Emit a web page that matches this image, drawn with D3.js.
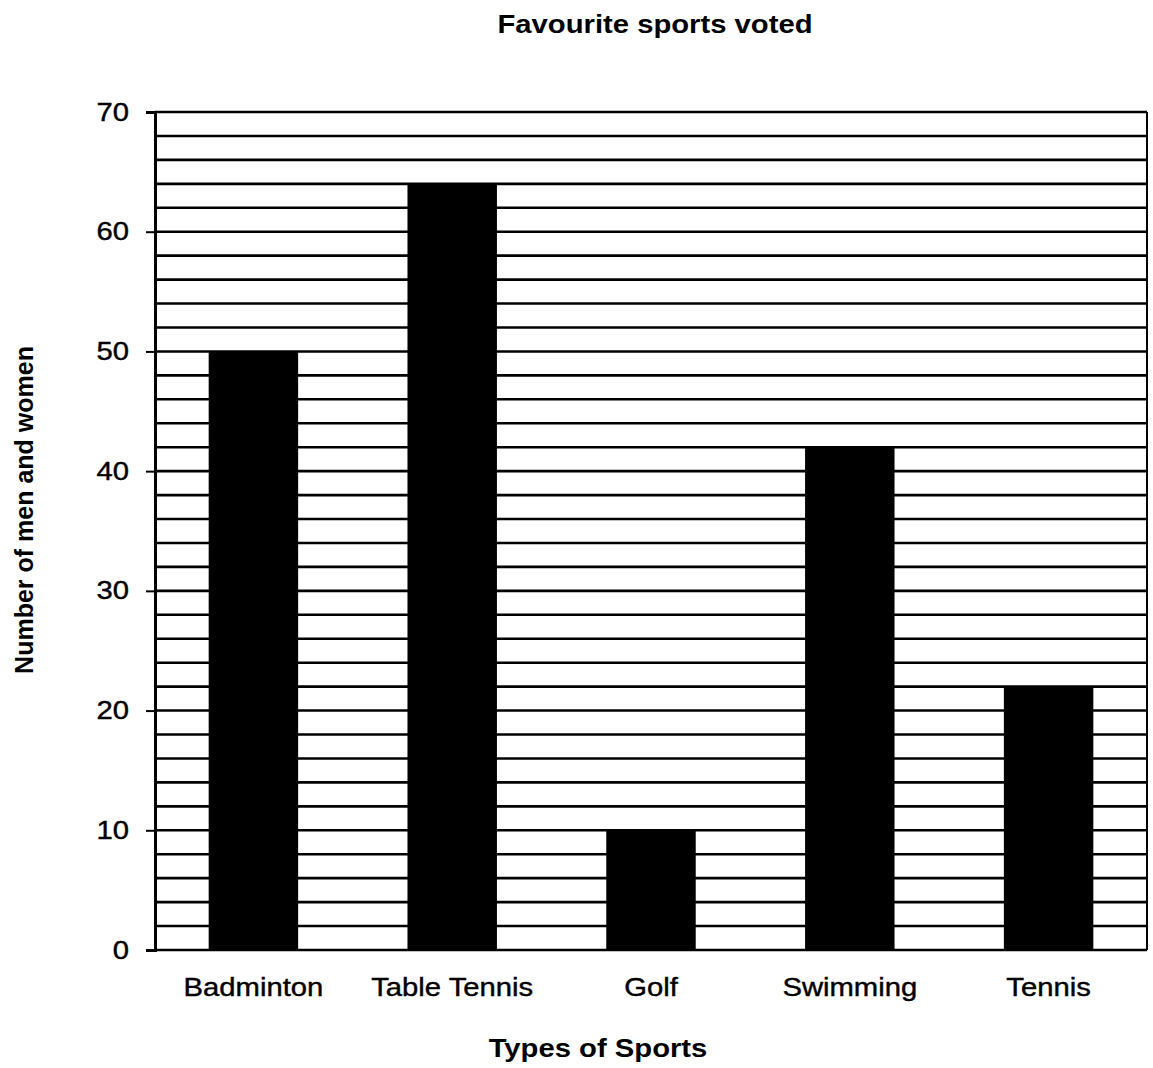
<!DOCTYPE html>
<html>
<head>
<meta charset="utf-8">
<script src="https://cdn.jsdelivr.net/npm/d3@7"></script>
<style>
  body { margin: 0; background: #fff; }
  text { font-family: "Liberation Sans", Arial, sans-serif; fill: #000; }
</style>
</head>
<body>
<div id="chart"></div>
<script>
const width = 1153;
const height = 1068;

const sports = ["Badminton", "Table Tennis", "Golf", "Swimming", "Tennis"];
const votes = [50, 64, 10, 42, 22];
const yTicks = [0, 10, 20, 30, 40, 50, 60, 70];
const gridValues = d3.range(0, 71, 2);

const margin = { top: 112, right: 6, bottom: 118, left: 155 };
const stretch = 1.17; // the scanned text is wider than it is tall

const svg = d3.select("#chart")
    .append("svg")
    .attr("width", width)
    .attr("height", height);

const x = d3.scaleBand()
    .domain(sports)
    .range([margin.left, width - margin.right])
    .paddingInner(0.55)
    .paddingOuter(0.27);

const y = d3.scaleLinear()
    .domain([0, 70])
    .range([height - margin.bottom, margin.top]);

// horizontal grid every 2 units
svg.append("g")
    .selectAll("line")
    .data(gridValues)
    .join("line")
    .attr("x1", margin.left)
    .attr("x2", width - margin.right)
    .attr("y1", d => y(d))
    .attr("y2", d => y(d))
    .attr("stroke", "#000")
    .attr("stroke-width", 2.6);

// right border
svg.append("line")
    .attr("x1", width - margin.right).attr("x2", width - margin.right)
    .attr("y1", y(70)).attr("y2", y(0))
    .attr("stroke", "#000").attr("stroke-width", 2);

// bars
svg.append("g")
    .selectAll("rect")
    .data(sports)
    .join("rect")
    .attr("x", d => x(d))
    .attr("width", x.bandwidth())
    .attr("y", (d, i) => y(votes[i]))
    .attr("height", (d, i) => y(0) - y(votes[i]))
    .attr("fill", "#000");

// y axis
const yAxis = svg.append("g")
    .attr("transform", `translate(${margin.left},0)`)
    .call(d3.axisLeft(y).tickValues(yTicks).tickSize(9));
yAxis.select(".domain").attr("stroke-width", 3);
yAxis.selectAll(".tick line").attr("stroke-width", 2);
yAxis.selectAll(".tick text")
    .attr("x", 0)
    .attr("transform", `translate(-26,0) scale(${stretch},1)`)
    .style("font-size", "25px")
    .style("stroke", "#000")
    .style("stroke-width", 0.4);

// x axis labels
const xAxis = svg.append("g")
    .attr("transform", `translate(0,${y(0)})`)
    .call(d3.axisBottom(x).tickSize(0).tickPadding(28));
xAxis.select(".domain").remove();
xAxis.selectAll(".tick text")
    .attr("transform", `scale(${stretch},1)`)
    .style("font-size", "25px")
    .style("stroke", "#000")
    .style("stroke-width", 0.4);

// title
svg.append("text")
    .attr("transform", `translate(655,33) scale(${stretch},1)`)
    .attr("text-anchor", "middle")
    .style("font-size", "25px")
    .style("font-weight", "bold")
    .text("Favourite sports voted");

// x title
svg.append("text")
    .attr("transform", `translate(598,1057) scale(${stretch},1)`)
    .attr("text-anchor", "middle")
    .style("font-size", "25px")
    .style("font-weight", "bold")
    .text("Types of Sports");

// y title
svg.append("text")
    .attr("transform", `translate(33,510) rotate(-90)`)
    .attr("text-anchor", "middle")
    .style("font-size", "25px")
    .style("font-weight", "bold")
    .text("Number of men and women");
</script>
</body>
</html>
